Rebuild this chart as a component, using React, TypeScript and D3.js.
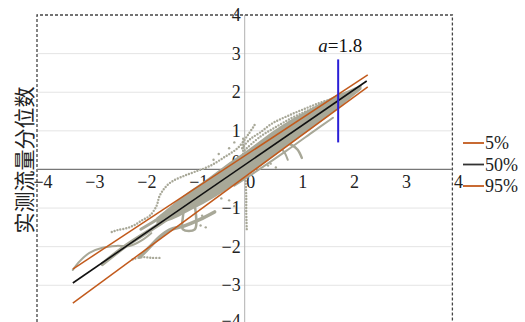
import { useEffect, useRef } from 'react'
import * as d3 from 'd3'

type Pt = [number, number]

const tickValues = [-4, -3, -2, -1, 0, 1, 2, 3, 4]
const gridValues = [-3, -2, -1, 1, 2, 3]

// fitted quantile lines (x, y)
const q5Line: Pt[] = [[-3.31, -3.46], [2.37, 2.14]]
const q50Line: Pt[] = [[-3.31, -2.94], [2.35, 2.29]]
const q95Line: Pt[] = [[-3.31, -2.58], [2.37, 2.45]]
const aValue = 1.8
const aLine: Pt[] = [[1.8, 0.7], [1.8, 2.85]]

// dense core of the observed quantiles
const bandX = [-1.7, -1.4, -1.1, -0.7, -0.3, 0.1, 0.5, 0.9, 1.3, 1.7, 2.0, 2.25]
const bandUpper = [-1.25, -0.92, -0.6, -0.22, 0.18, 0.55, 0.95, 1.3, 1.6, 1.88, 2.05, 2.2]
const bandLower = [-1.42, -1.3, -1.1, -0.82, -0.48, -0.12, 0.28, 0.68, 1.07, 1.47, 1.8, 2.08]

// station curves drawn as solid gray strokes
const trackOnLine: Pt[] = [[-2.74, -2.45], [-2.27, -1.96], [-1.7, -1.47], [-1.2, -1.0]]
const trackBelow: Pt[] = [[-2.02, -2.27], [-1.83, -2.01], [-1.64, -1.75], [-1.45, -1.57], [-1.16, -1.46], [-0.87, -1.3], [-0.58, -1.1]]
const trackArc: Pt[] = [[-3.31, -2.6], [-3.18, -2.38], [-2.99, -2.16], [-2.74, -2.03], [-2.47, -1.98], [-2.22, -1.98], [-2.0, -1.85], [-1.8, -1.65]]
const trackUpperLeft: Pt[] = [[-2.0, -1.55], [-1.75, -1.35], [-1.5, -1.12], [-1.25, -0.85]]
const trackComb: Pt[] = [[-1.35, -1.1], [-1.19, -1.0], [-1.19, -1.55], [-0.96, -1.55], [-0.96, -0.95]]
const trackLowEdge: Pt[] = [[-0.2, -0.42], [0.3, 0.02], [0.8, 0.48], [1.3, 0.96], [1.7, 1.34]]
const trackHook: Pt[] = [[0.73, 0.71], [0.91, 0.63], [1.02, 0.51], [1.1, 0.3]]
const trackHook2: Pt[] = [[0.7, 0.55], [0.77, 0.43], [0.83, 0.25]]

// station curves drawn as dotted strokes
const dotsUpperRight: Pt[] = [[-0.05, 0.55], [0.1, 0.78], [0.29, 0.95], [0.54, 1.2], [0.87, 1.41], [1.19, 1.59], [1.5, 1.75], [1.83, 1.88], [2.0, 1.98], [2.16, 2.11]]
const dotsUpperMid: Pt[] = [[0.0, 0.5], [0.3, 0.85], [0.6, 1.1], [0.9, 1.33], [1.2, 1.52], [1.5, 1.7], [1.8, 1.85]]
const dotsUpperLeft: Pt[] = [[-2.56, -1.62], [-2.45, -1.57], [-2.27, -1.52], [-2.12, -1.44], [-1.97, -1.31], [-1.83, -1.2], [-1.7, -0.95], [-1.64, -0.69], [-1.54, -0.48], [-1.41, -0.32], [-1.21, -0.19], [-0.96, -0.06], [-0.67, 0.09], [-0.39, 0.32], [-0.13, 0.56], [0.06, 0.89], [0.19, 1.15]]
const dotsZeroDown: Pt[] = [[0.02, -0.3], [0.03, -0.7], [0.03, -1.1], [0.04, -1.55]]
const dotsZeroUp: Pt[] = [[-0.03, 0.25], [-0.03, 0.8]]
const dotsBottom: Pt[] = [[-2.16, -2.33], [-1.97, -2.27], [-1.79, -2.29], [-1.64, -2.29]]
const looseDots: Pt[] = [[-0.3, -0.8], [-0.2, -0.95], [-0.45, -0.75], [0.5, 0.15], [0.6, 0.05], [0.45, 0.1], [-0.6, 0.25], [-0.5, 0.4], [-0.3, 0.55], [-0.2, 0.7], [-0.85, -1.45], [-0.75, -1.5], [-0.82, -1.2]]

const legendItems = ['5%', '50%', '95%']

const GRAY = '#a8a898'
const ORANGE = '#c25a1c'

export default function App() {
  const svgRef = useRef<SVGSVGElement>(null)

  useEffect(() => {
    if (!svgRef.current) return
    const width = 525
    const height = 322

    d3.select(svgRef.current).selectAll('*').remove()
    const svg = d3.select(svgRef.current)
      .attr('width', width)
      .attr('height', height)

    const x = d3.scaleLinear().domain([-4, 4]).range([37, 452.4])
    const y = d3.scaleLinear().domain([-4, 4]).range([323.9, 15])

    // gridlines
    svg.selectAll('.grid')
      .data(gridValues)
      .join('line')
      .attr('x1', x(-4)).attr('x2', x(4))
      .attr('y1', d => y(d)).attr('y2', d => y(d))
      .attr('stroke', '#e4e4e4')
      .attr('stroke-width', 1)

    // dashed plot frame
    const frame = d3.line()([[x(-4), height + 5], [x(-4), y(4)], [x(4), y(4)], [x(4), height + 5]])
    svg.append('path')
      .attr('d', frame)
      .attr('fill', 'none')
      .attr('stroke', '#444')
      .attr('stroke-width', 1.3)
      .attr('stroke-dasharray', '3 2')

    // axis lines through the origin
    svg.append('line')
      .attr('x1', x(0)).attr('x2', x(0))
      .attr('y1', y(4)).attr('y2', y(-4))
      .attr('stroke', '#b0b0b0')
    svg.append('line')
      .attr('x1', x(-4)).attr('x2', x(4))
      .attr('y1', y(0)).attr('y2', y(0))
      .attr('stroke', '#777')
      .attr('stroke-width', 1.2)

    const fmt = (d: number) => (d < 0 ? '\u2212' + Math.abs(d) : String(d))
    const serif = '"Liberation Serif", "Times New Roman", serif'

    svg.selectAll('.xtick')
      .data(tickValues)
      .join('text')
      .attr('x', d => x(d) + 6)
      .attr('y', y(0) + 13)
      .attr('text-anchor', 'middle')
      .attr('dominant-baseline', 'central')
      .attr('font-family', serif)
      .attr('font-size', 18)
      .attr('fill', '#222')
      .text(fmt)

    svg.selectAll('.ytick')
      .data(tickValues)
      .join('text')
      .attr('x', x(0) - 4)
      .attr('y', d => y(d) - (d === 0 ? 7 : d === -4 ? 3 : 0))
      .attr('text-anchor', 'end')
      .attr('dominant-baseline', 'central')
      .attr('font-family', serif)
      .attr('font-size', 18)
      .attr('fill', '#222')
      .text(fmt)

    // observed quantile cloud
    const area = d3.area<number>()
      .x((_, i) => x(bandX[i]))
      .y0((_, i) => y(bandLower[i]))
      .y1((_, i) => y(bandUpper[i]))
      .curve(d3.curveCatmullRom)
    svg.append('path')
      .attr('d', area(bandX))
      .attr('fill', GRAY)

    const line = d3.line<Pt>().x(d => x(d[0])).y(d => y(d[1])).curve(d3.curveCatmullRom)

    const solid = [
      { pts: trackOnLine, w: 4 },
      { pts: trackBelow, w: 3.5 },
      { pts: trackArc, w: 2 },
      { pts: trackUpperLeft, w: 3 },
      { pts: trackComb, w: 2.5 },
      { pts: trackLowEdge, w: 2 },
      { pts: trackHook, w: 2.5 },
      { pts: trackHook2, w: 2 },
    ]
    svg.selectAll('.track')
      .data(solid)
      .join('path')
      .attr('d', d => line(d.pts))
      .attr('fill', 'none')
      .attr('stroke', GRAY)
      .attr('stroke-width', d => d.w)
      .attr('stroke-linecap', 'round')
      .attr('stroke-linejoin', 'round')

    const dotted = [dotsUpperRight, dotsUpperMid, dotsUpperLeft, dotsZeroDown, dotsZeroUp, dotsBottom]
    svg.selectAll('.dotted')
      .data(dotted)
      .join('path')
      .attr('d', d => line(d))
      .attr('fill', 'none')
      .attr('stroke', GRAY)
      .attr('stroke-width', 2.4)
      .attr('stroke-linecap', 'round')
      .attr('stroke-dasharray', '0 3')

    svg.selectAll('.dot')
      .data(looseDots)
      .join('circle')
      .attr('cx', d => x(d[0]))
      .attr('cy', d => y(d[1]))
      .attr('r', 1.2)
      .attr('fill', GRAY)

    // quantile lines
    const straight = d3.line<Pt>().x(d => x(d[0])).y(d => y(d[1]))
    svg.append('path').attr('d', straight(q5Line)).attr('stroke', ORANGE).attr('stroke-width', 1.5).attr('fill', 'none')
    svg.append('path').attr('d', straight(q95Line)).attr('stroke', ORANGE).attr('stroke-width', 1.5).attr('fill', 'none')
    svg.append('path').attr('d', straight(q50Line)).attr('stroke', '#111').attr('stroke-width', 1.6).attr('fill', 'none')

    // threshold marker
    svg.append('path').attr('d', straight(aLine)).attr('stroke', '#2a1fd6').attr('stroke-width', 2).attr('fill', 'none')
    const lbl = svg.append('text')
      .attr('x', x(aValue) + 2)
      .attr('y', y(3.05))
      .attr('text-anchor', 'middle')
      .attr('font-family', serif)
      .attr('font-size', 19)
      .attr('fill', '#111')
    lbl.append('tspan').attr('font-style', 'italic').text('a')
    lbl.append('tspan').text('=' + aValue)

    // legend
    const legend = svg.selectAll('.legend')
      .data(legendItems)
      .join('g')
      .attr('transform', (_, i) => `translate(463,${143 + i * 21.5})`)
    legend.append('line')
      .attr('x1', 0).attr('x2', 21)
      .attr('stroke', (_, i) => (i === 1 ? '#333' : ORANGE))
      .attr('stroke-width', 1.8)
    legend.append('text')
      .attr('x', 22)
      .attr('dominant-baseline', 'central')
      .attr('font-family', serif)
      .attr('font-size', 18)
      .attr('fill', '#222')
      .text(d => d)

    // y title
    svg.append('text')
      .attr('transform', `translate(23,160) rotate(-90)`)
      .attr('text-anchor', 'middle')
      .attr('dominant-baseline', 'central')
      .attr('font-family', '"Noto Sans CJK SC", sans-serif')
      .attr('font-size', 21)
      .attr('fill', '#222')
      .text('实测流量分位数')
  }, [])

  return <svg ref={svgRef} style={{ position: 'absolute', left: 0, top: 0 }}></svg>
}
